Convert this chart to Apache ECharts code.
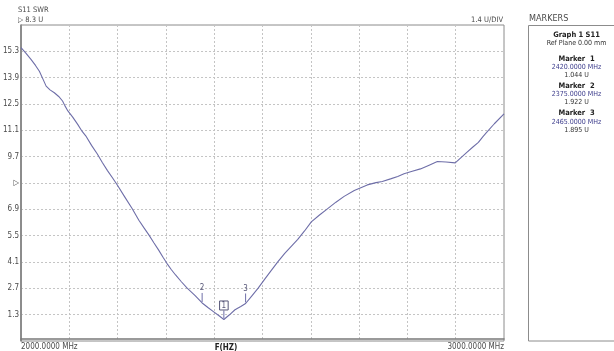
<!DOCTYPE html>
<html>
<head>
<meta charset="utf-8">
<script src="https://cdn.jsdelivr.net/npm/echarts@6/dist/echarts.min.js"></script>
<style>
  html, body { margin: 0; padding: 0; background: #ffffff; }
  #chart { width: 614px; height: 351px; }
</style>
</head>
<body>
<div id="chart"></div>
<script>
// S11 SWR sweep, 2000–3000 MHz
const freqMHz = [
  2000, 2010, 2021, 2030, 2038, 2045, 2052, 2060, 2069, 2078,
  2086, 2091, 2097, 2107, 2117, 2125, 2134, 2146, 2158, 2168,
  2179, 2190, 2200, 2215, 2230, 2244, 2255, 2265, 2275, 2285,
  2294, 2302, 2311, 2320, 2332, 2344, 2360, 2375, 2387, 2399,
  2410, 2420, 2431, 2443, 2455, 2465, 2478, 2491, 2505, 2519,
  2532, 2546, 2560, 2573, 2587, 2601, 2618, 2635, 2652, 2669,
  2690, 2717, 2735, 2748, 2765, 2780, 2793, 2810, 2827, 2845,
  2862, 2880, 2899, 2911, 2923, 2935, 2947, 2956, 2964, 2980,
  3000
];
const swr = [
  15.50, 15.20, 14.86, 14.55, 14.24, 13.85, 13.45, 13.25, 13.10, 12.90,
  12.66, 12.40, 12.13, 11.80, 11.43, 11.10, 10.81, 10.30, 9.84, 9.40,
  8.96, 8.55, 8.17, 7.55, 6.94, 6.32, 5.90, 5.53, 5.12, 4.73,
  4.35, 4.03, 3.70, 3.41, 3.05, 2.71, 2.33, 1.922, 1.68, 1.45,
  1.24, 1.044, 1.28, 1.56, 1.73, 1.895, 2.30, 2.71, 3.20, 3.68,
  4.12, 4.56, 4.95, 5.30, 5.75, 6.23, 6.60, 6.94, 7.28, 7.59,
  7.90, 8.20, 8.32, 8.38, 8.52, 8.65, 8.79, 8.92, 9.05, 9.25,
  9.44, 9.42, 9.37, 9.65, 9.93, 10.20, 10.46, 10.75, 10.99, 11.45,
  11.97
];

// markers
const markerIds = [1, 2, 3];
const markerFreq = [2420, 2375, 2465];
const markerValue = [1.044, 1.922, 1.895];
const activeMarker = 1;

// scale settings
const refLevel = 8.3;
const unitsPerDiv = 1.4;
const yMin = -0.1;
const yMax = 16.7;
const xStart = 2000;
const xStop = 3000;
const xStep = 100;

const traceName = 'S11 SWR';
const xTitle = 'F(HZ)';
const panelTitle = 'MARKERS';
const graphLine = 'Graph 1 S11';
const refPlane = 'Ref Plane 0.00 mm';

const FONT = "'Liberation Sans Narrow', 'DejaVu Sans Condensed', 'Liberation Sans', sans-serif";
const TXT = '#4a4a4a';
const TRACE = '#6e6ea8';
const VALC = '#3c3c8c';

const chart = echarts.init(document.getElementById('chart'), null, { renderer: 'canvas' });

const seriesData = freqMHz.map((f, i) => [f, swr[i]]);
const markerData = markerIds.map((id, i) => [markerFreq[i], markerValue[i], id]);

// marker list in the side panel
const panelX = 576.5;
const panelText = [];
function ptxt(text, y, opts) {
  panelText.push({
    type: 'text', x: panelX, y: y,
    style: Object.assign({
      text: text, fill: TXT, font: '7px ' + FONT,
      align: 'center', verticalAlign: 'middle'
    }, opts || {})
  });
}
ptxt(graphLine, 35.5, { font: 'bold 7.5px ' + FONT, fill: '#222' });
ptxt(refPlane, 43.3, { fill: '#333' });
markerIds.forEach((id, i) => {
  const y0 = 59 + i * 27.2;
  ptxt('Marker  ' + id, y0, { font: 'bold 7.5px ' + FONT, fill: '#222' });
  ptxt(markerFreq[i].toFixed(4) + ' MHz', y0 + 8.3, { fill: VALC });
  ptxt(markerValue[i].toFixed(3) + ' U', y0 + 16.3, { fill: '#333' });
});

chart.setOption({
  animation: false,
  backgroundColor: '#ffffff',
  grid: {
    left: 18, top: 25, width: 486, height: 318,
    show: true, borderColor: '#8c8c8c', borderWidth: 1
  },
  xAxis: {
    type: 'value',
    min: xStart, max: xStop, interval: xStep,
    axisLine: { show: true, lineStyle: { color: '#7a7a7a', width: 1.5 } },
    axisTick: { show: false },
    splitLine: { show: true, lineStyle: { color: '#c4c4c4', type: [2, 2], width: 1 } },
    axisLabel: {
      show: true, margin: 2,
      color: TXT, fontFamily: FONT, fontSize: 8,
      alignMinLabel: 'left', alignMaxLabel: 'right',
      formatter: v => (v === xStart || v === xStop) ? v.toFixed(4) + ' MHz' : ''
    }
  },
  yAxis: {
    type: 'value',
    min: yMin, max: yMax, interval: unitsPerDiv,
    axisLine: { show: true, lineStyle: { color: '#7a7a7a', width: 1.5 } },
    axisTick: { show: false },
    splitLine: { show: true, lineStyle: { color: '#c4c4c4', type: [2, 2], width: 1 } },
    axisLabel: {
      show: true, margin: 2,
      color: TXT, fontFamily: FONT, fontSize: 8,
      formatter: v => {
        if (v < 0.5 || v > yMax - 0.5) return '';
        if (Math.abs(v - refLevel) < 0.01) return '▷';
        return v.toFixed(1);
      }
    }
  },
  series: [
    {
      type: 'line',
      data: seriesData,
      showSymbol: false,
      smooth: false,
      lineStyle: { color: TRACE, width: 1.1 },
      z: 3
    },
    {
      // marker flags drawn on the trace
      type: 'custom',
      data: markerData,
      z: 4,
      renderItem: function (params, api) {
        const p = api.coord([api.value(0), api.value(1)]);
        const id = api.value(2);
        const active = id === activeMarker;
        const tick = active ? 8 : 9;
        return {
          type: 'group',
          children: [
            {
              type: 'line',
              shape: { x1: p[0], y1: p[1] - 1, x2: p[0], y2: p[1] - 1 - tick },
              style: { stroke: TRACE, lineWidth: 1 }
            },
            {
              type: 'text',
              x: p[0], y: p[1] - 1 - tick - (active ? 5 : 5),
              style: {
                text: String(id), fill: '#555577',
                font: '8px ' + FONT,
                align: 'center', verticalAlign: 'middle',
                borderColor: active ? '#555577' : null,
                borderWidth: active ? 1 : 0,
                padding: active ? [1, 2, 0, 2] : 0
              }
            }
          ]
        };
      }
    }
  ],
  graphic: [
    {
      type: 'text', x: 18, y: 10,
      style: { text: traceName, fill: TXT, font: '7.5px ' + FONT, verticalAlign: 'middle' }
    },
    {
      type: 'text', x: 18, y: 20,
      style: { text: '▷ ' + refLevel.toFixed(1) + ' U', fill: TXT, font: '7.5px ' + FONT, verticalAlign: 'middle' }
    },
    {
      type: 'text', x: 503, y: 20.5,
      style: { text: unitsPerDiv.toFixed(1) + ' U/DIV', fill: TXT, font: '7.5px ' + FONT, align: 'right', verticalAlign: 'middle' }
    },
    {
      type: 'text', x: 226, y: 348,
      style: { text: xTitle, fill: '#222', font: 'bold 8px ' + FONT, align: 'center', verticalAlign: 'middle' }
    },
    {
      type: 'text', x: 529, y: 19,
      style: { text: panelTitle, fill: TXT, font: '9px ' + FONT, verticalAlign: 'middle' }
    },
    {
      type: 'rect',
      shape: { x: 528.5, y: 25.5, width: 100, height: 315.5 },
      style: { fill: '#ffffff', stroke: '#8c8c8c', lineWidth: 1 }
    }
  ].concat(panelText)
});
</script>
</body>
</html>
